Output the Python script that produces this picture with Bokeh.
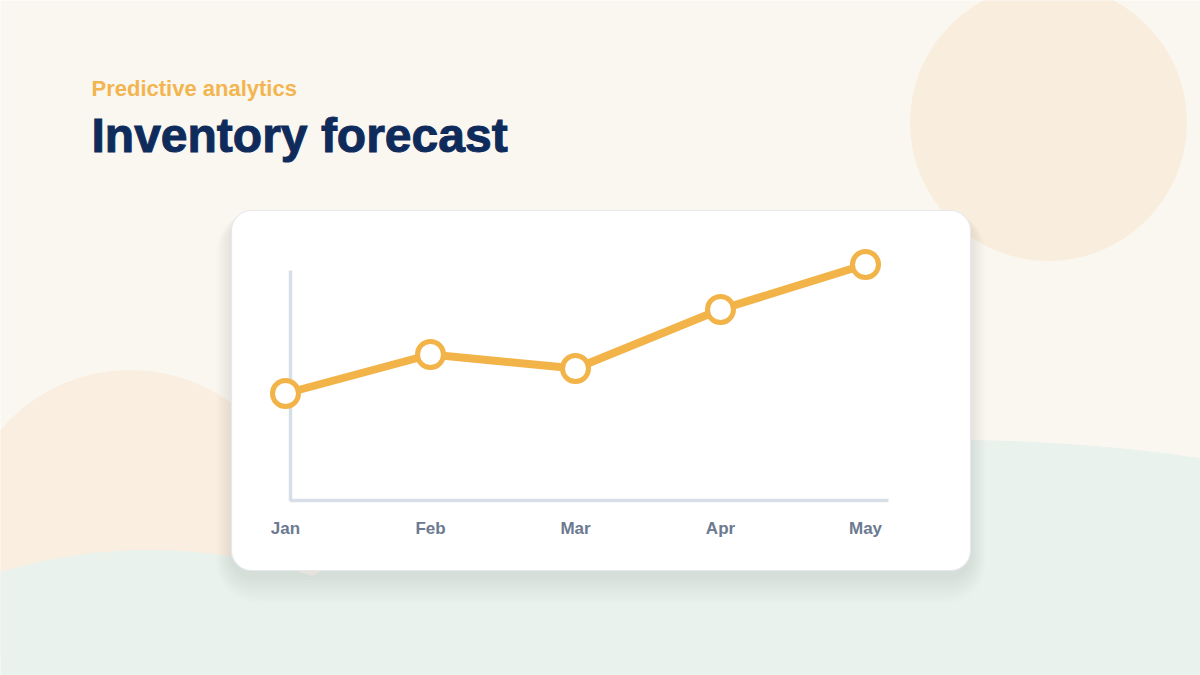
from bokeh.plotting import figure
from bokeh.models import Range1d
from bokeh.core.properties import value
from bokeh.embed import file_html
from bokeh.resources import INLINE

# ----------------------------
# Data
# ----------------------------
months = ["Jan", "Feb", "Mar", "Apr", "May"]
inventory = [53.5, 73, 66, 95.5, 118]

subtitle = "Predictive analytics"
title = "Inventory forecast"

# ----------------------------
# Layout (window pixels)
# ----------------------------
W, H = 1200, 675
OFF = 0
X0, DX = 285, 145   # Jan position, spacing between months
Y0, DY = 500, 2.0   # baseline, px per unit

ORANGE = "#F2B348"
NAVY = "#0F2B5B"
GREY = "#6B7A90"
AXIS = "#D8DEE8"
BG = "#FAF7F1"

x_idx = list(range(len(months)))

p = figure(width=W, height=H, output_backend="svg", toolbar_location=None,
           x_axis_location=None, y_axis_location=None, min_border=0,
           x_range=Range1d((OFF - X0) / DX, (OFF + W - X0) / DX),
           y_range=Range1d((Y0 - (OFF + H)) / DY, (Y0 - OFF) / DY))
p.extra_x_ranges = {"px": Range1d(OFF, OFF + W)}
p.extra_y_ranges = {"px": Range1d(OFF + H, OFF)}
p.background_fill_color = BG
p.border_fill_color = BG
p.outline_line_color = None
p.xgrid.visible = False
p.ygrid.visible = False

px = dict(x_range_name="px", y_range_name="px")

# background shapes
p.circle(x=[1048], y=[122], radius=138, color="#F9EEDD", **px)
p.circle(x=[130], y=[541], radius=171, color="#F9EEDF", **px)
p.ellipse(x=[150], y=[780], width=700, height=460, color="#E9F2EC", **px)
p.ellipse(x=[950], y=[900], width=1800, height=920, color="#E9F2EC", **px)

# card shadow + card
for k in range(1, 11):
    p.quad(left=231 - k * 1.5, right=970 + k * 1.5, top=216 - k * 0.5, bottom=574 + k * 2.8,
           border_radius=20 + k * 2, fill_color="#2F4F5F", fill_alpha=0.013,
           line_color=None, **px)
p.quad(left=231, right=970, top=210, bottom=570, border_radius=20,
       fill_color="white", line_color="#E6E8EC", line_width=1.2, **px)

# axes
p.line(x=[290, 290, 888], y=[270, 500, 500], color=AXIS, line_width=3.5, **px)

# series
p.line(x=x_idx, y=inventory, color=ORANGE, line_width=8, line_join="round", line_cap="round")
p.scatter(x=x_idx, y=inventory, size=26, fill_color="white", line_color=ORANGE, line_width=5)

# month labels
p.text(x=x_idx, y=[528] * len(months), text=months, y_range_name="px",
       text_font=value("Liberation Sans"), text_font_style="bold", text_font_size="17px",
       text_color=GREY, text_align="center", text_baseline="alphabetic")

# headings
p.text(x=[91], y=[88], text=[subtitle], text_font=value("Liberation Sans"),
       text_font_style="bold", text_font_size="22px", text_color="#F2B54F",
       text_baseline="alphabetic", **px)
p.text(x=[91], y=[135], text=[title], text_font=value("Liberation Sans"),
       text_font_style="bold", text_font_size="48px", text_color=NAVY,
       text_outline_color=NAVY, text_baseline="alphabetic", **px)

open("out.html", "w").write(file_html(p, INLINE))
